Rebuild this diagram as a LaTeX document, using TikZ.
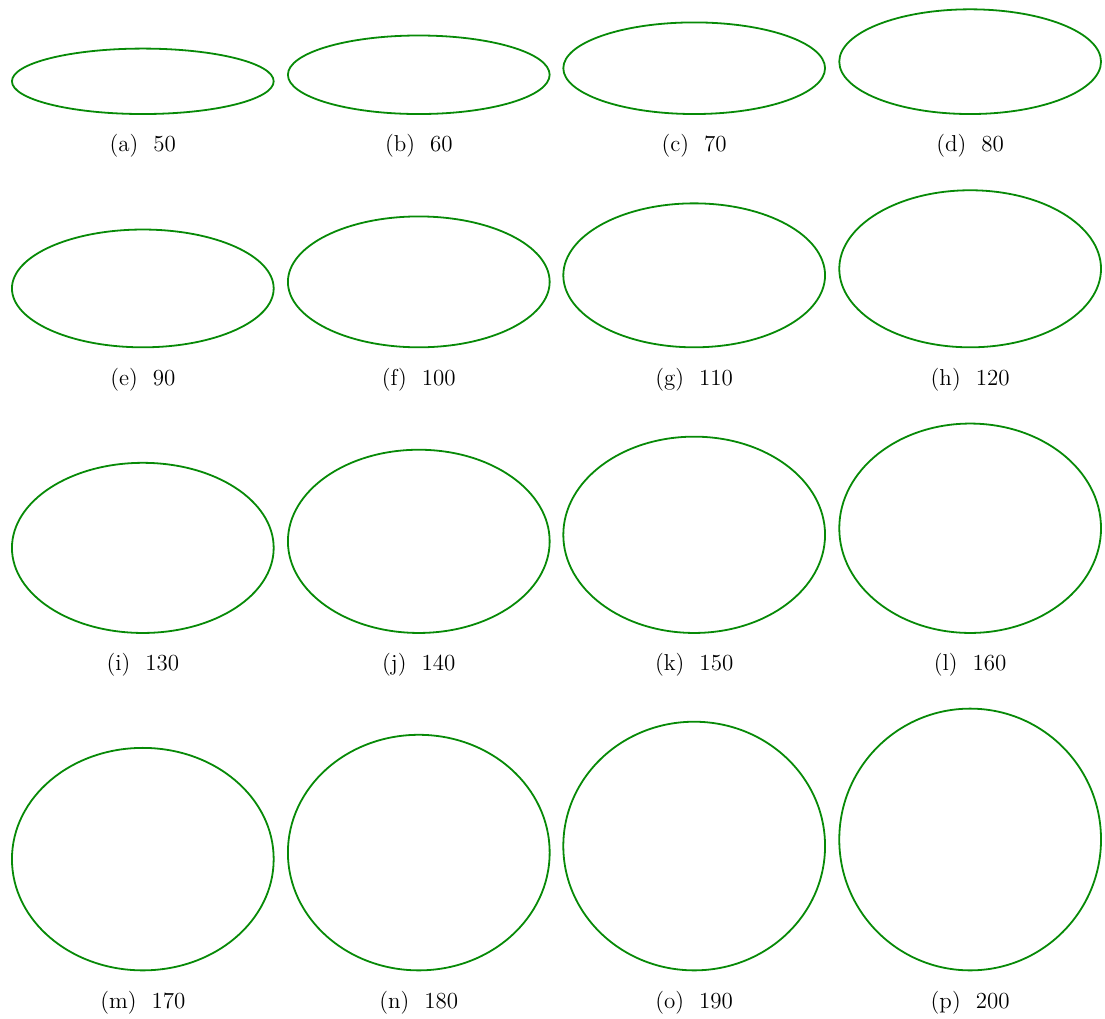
\documentclass[tikz,border=0pt]{standalone}
\usepackage{tikz}
\usetikzlibrary{shapes.geometric}
\definecolor{ovalgreen}{HTML}{078A07}
\newcommand{\labsep}{\hspace{7.5pt}}

\begin{document}
\begin{tikzpicture}[
        oval/.style={ellipse, draw=ovalgreen, line width=0.9pt, inner sep=0pt,
                     minimum width=4.60cm, anchor=south},
        subcap/.style={font=\fontsize{11.5}{14}\selectfont, inner sep=0pt}
      ]
        \useasboundingbox (0,0) rectangle (19.42,17.90);

        % row 1
        \node[oval, minimum height=1.15cm] (e50) at (2.51,15.88) {};
        \node[oval, minimum height=1.38cm] (e60) at (7.36,15.88) {};
        \node[oval, minimum height=1.61cm] (e70) at (12.20,15.88) {};
        \node[oval, minimum height=1.84cm] (e80) at (17.05,15.88) {};
        \node[subcap] (c50) at (2.51,15.33) {(a)\labsep 50};
        \node[subcap] (c60) at (7.36,15.33) {(b)\labsep 60};
        \node[subcap] (c70) at (12.20,15.33) {(c)\labsep 70};
        \node[subcap] (c80) at (17.05,15.33) {(d)\labsep 80};

        % row 2
        \node[oval, minimum height=2.07cm] (e90) at (2.51,11.78) {};
        \node[oval, minimum height=2.30cm] (e100) at (7.36,11.78) {};
        \node[oval, minimum height=2.53cm] (e110) at (12.20,11.78) {};
        \node[oval, minimum height=2.76cm] (e120) at (17.05,11.78) {};
        \node[subcap] (c90) at (2.51,11.23) {(e)\labsep 90};
        \node[subcap] (c100) at (7.36,11.23) {(f)\labsep 100};
        \node[subcap] (c110) at (12.20,11.23) {(g)\labsep 110};
        \node[subcap] (c120) at (17.05,11.23) {(h)\labsep 120};

        % row 3
        \node[oval, minimum height=2.99cm] (e130) at (2.51,6.76) {};
        \node[oval, minimum height=3.22cm] (e140) at (7.36,6.76) {};
        \node[oval, minimum height=3.45cm] (e150) at (12.20,6.76) {};
        \node[oval, minimum height=3.68cm] (e160) at (17.05,6.76) {};
        \node[subcap] (c130) at (2.51,6.21) {(i)\labsep 130};
        \node[subcap] (c140) at (7.36,6.21) {(j)\labsep 140};
        \node[subcap] (c150) at (12.20,6.21) {(k)\labsep 150};
        \node[subcap] (c160) at (17.05,6.21) {(l)\labsep 160};

        % row 4
        \node[oval, minimum height=3.91cm] (e170) at (2.51,0.83) {};
        \node[oval, minimum height=4.14cm] (e180) at (7.36,0.83) {};
        \node[oval, minimum height=4.37cm] (e190) at (12.20,0.83) {};
        \node[oval, minimum height=4.60cm] (e200) at (17.05,0.83) {};
        \node[subcap] (c170) at (2.51,0.28) {(m)\labsep 170};
        \node[subcap] (c180) at (7.36,0.28) {(n)\labsep 180};
        \node[subcap] (c190) at (12.20,0.28) {(o)\labsep 190};
        \node[subcap] (c200) at (17.05,0.28) {(p)\labsep 200};
      \end{tikzpicture}
\end{document}
